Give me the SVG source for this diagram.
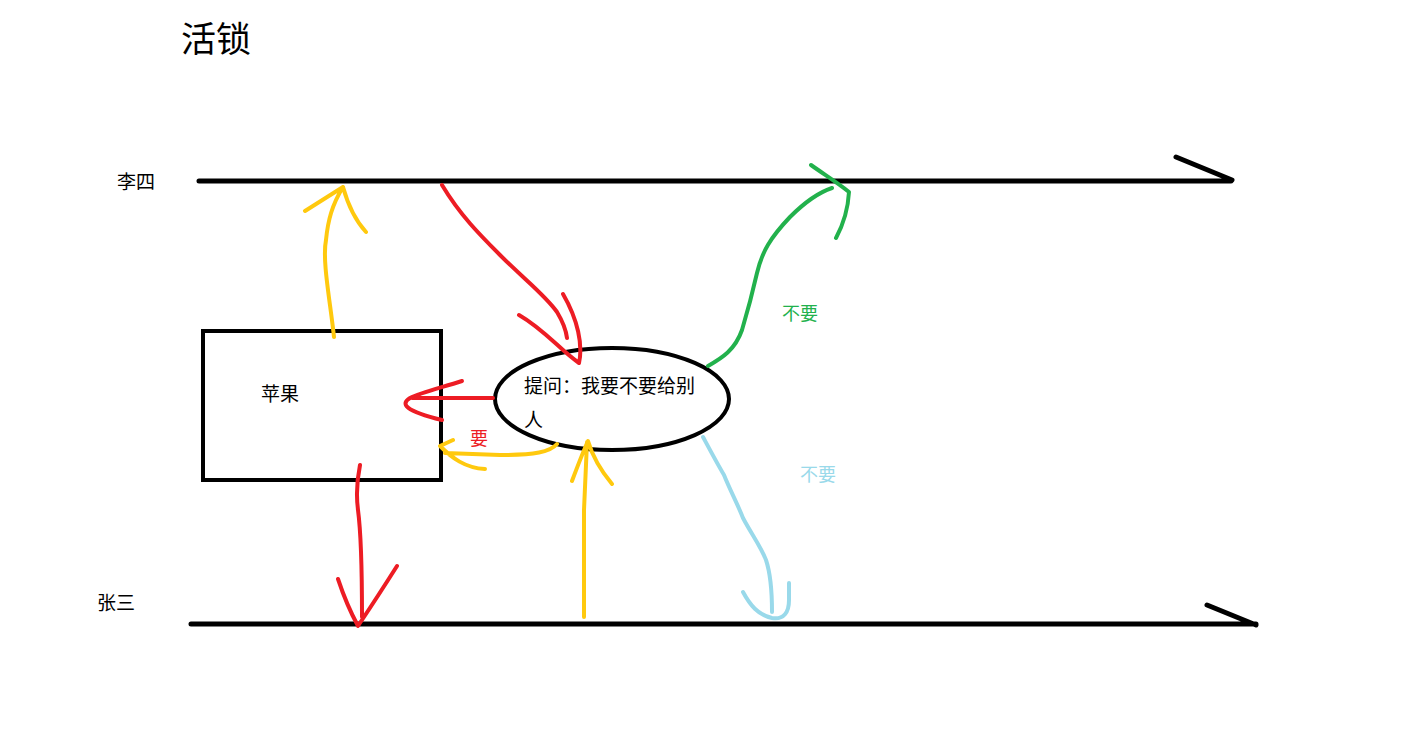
<svg xmlns="http://www.w3.org/2000/svg" width="1425" height="732" viewBox="0 0 1425 732">
<style>
text{font-family:"Noto Sans CJK SC","Microsoft YaHei",sans-serif;}
.blk{fill:none;stroke:#000;stroke-width:5;stroke-linecap:round;stroke-linejoin:round;}
.red{fill:none;stroke:#ED1C24;stroke-width:4;stroke-linecap:round;stroke-linejoin:round;}
.yel{fill:none;stroke:#FFC90E;stroke-width:4;stroke-linecap:round;stroke-linejoin:round;}
.grn{fill:none;stroke:#22B14C;stroke-width:4;stroke-linecap:round;stroke-linejoin:round;}
.blu{fill:none;stroke:#99D9EA;stroke-width:4;stroke-linecap:round;stroke-linejoin:round;}
.lbl{font-size:19px;fill:#000;}
</style>
<rect width="1425" height="732" fill="#fff"/>
<text x="181" y="52" style="font-size:35px" fill="#000">活锁</text>
<g id="lisi">
<text class="lbl" x="117" y="189">李四</text>
<path class="blk" d="M199 181 L1231 181 M1176 157 L1232 180"/>
</g>
<g id="zhangsan">
<text class="lbl" x="97" y="610">张三</text>
<path class="blk" d="M191 624 L1256 624 M1207 605 L1256 625"/>
</g>
<g id="apple">
<rect x="203" y="331" width="238" height="149" fill="none" stroke="#000" stroke-width="4"/>
<text class="lbl" x="261" y="401">苹果</text>
</g>
<g id="question">
<ellipse cx="612" cy="399" rx="117" ry="51" fill="none" stroke="#000" stroke-width="4"/>
<text class="lbl" x="524" y="393">提问：我要不要给别</text>
<text class="lbl" x="524" y="427">人</text>
</g>
<g id="connectors">
<path class="yel" d="M334 337 C330 300 322 260 326 240 C328 220 332 205 343 187 M305 211 L343 187 C348 205 355 220 366 232"/>
<path class="red" d="M442 185 C460 215 480 235 500 255 C525 280 545 295 557 312 C563 322 566 330 567 338 M519 315 C545 330 560 350 579 363 C583 345 578 320 563 294"/>
<path class="red" d="M493 398 L412 398 M462 381 C440 388 420 393 410 398 C400 404 405 411 442 420"/>
<path class="yel" d="M557 444 C550 452 535 455 500 455 L445 453 M453 440 L440 446 C452 458 465 468 485 469"/>
<text x="470" y="445" style="font-size:18px" fill="#ED1C24">要</text>
<path class="yel" d="M584 617 L584 510 L587 442 M572 481 C578 465 583 452 588 441 C593 458 602 472 612 484"/>
<path class="red" d="M360 465 C357 480 356 495 358 510 C362 540 362 580 362 617 M338 579 C345 600 352 615 358 626 C372 605 385 585 397 566"/>
<path class="grn" d="M708 366 C722 358 735 350 742 330 C748 310 752 295 757 273 C762 252 770 238 790 217 C805 202 820 192 832 188 M811 165 C825 175 838 183 849 192 C848 210 843 225 836 238"/>
<text x="782" y="320" style="font-size:18px" fill="#22B14C">不要</text>
<path class="blu" d="M703 437 C710 450 718 465 724 475 C730 490 738 505 743 518 C752 535 760 545 766 560 C771 575 772 595 772 612 M743 592 C750 605 758 615 772 618 C784 620 789 612 789 600 L789 583"/>
<text x="800" y="481" style="font-size:18px" fill="#99D9EA">不要</text>
</g>
</svg>
